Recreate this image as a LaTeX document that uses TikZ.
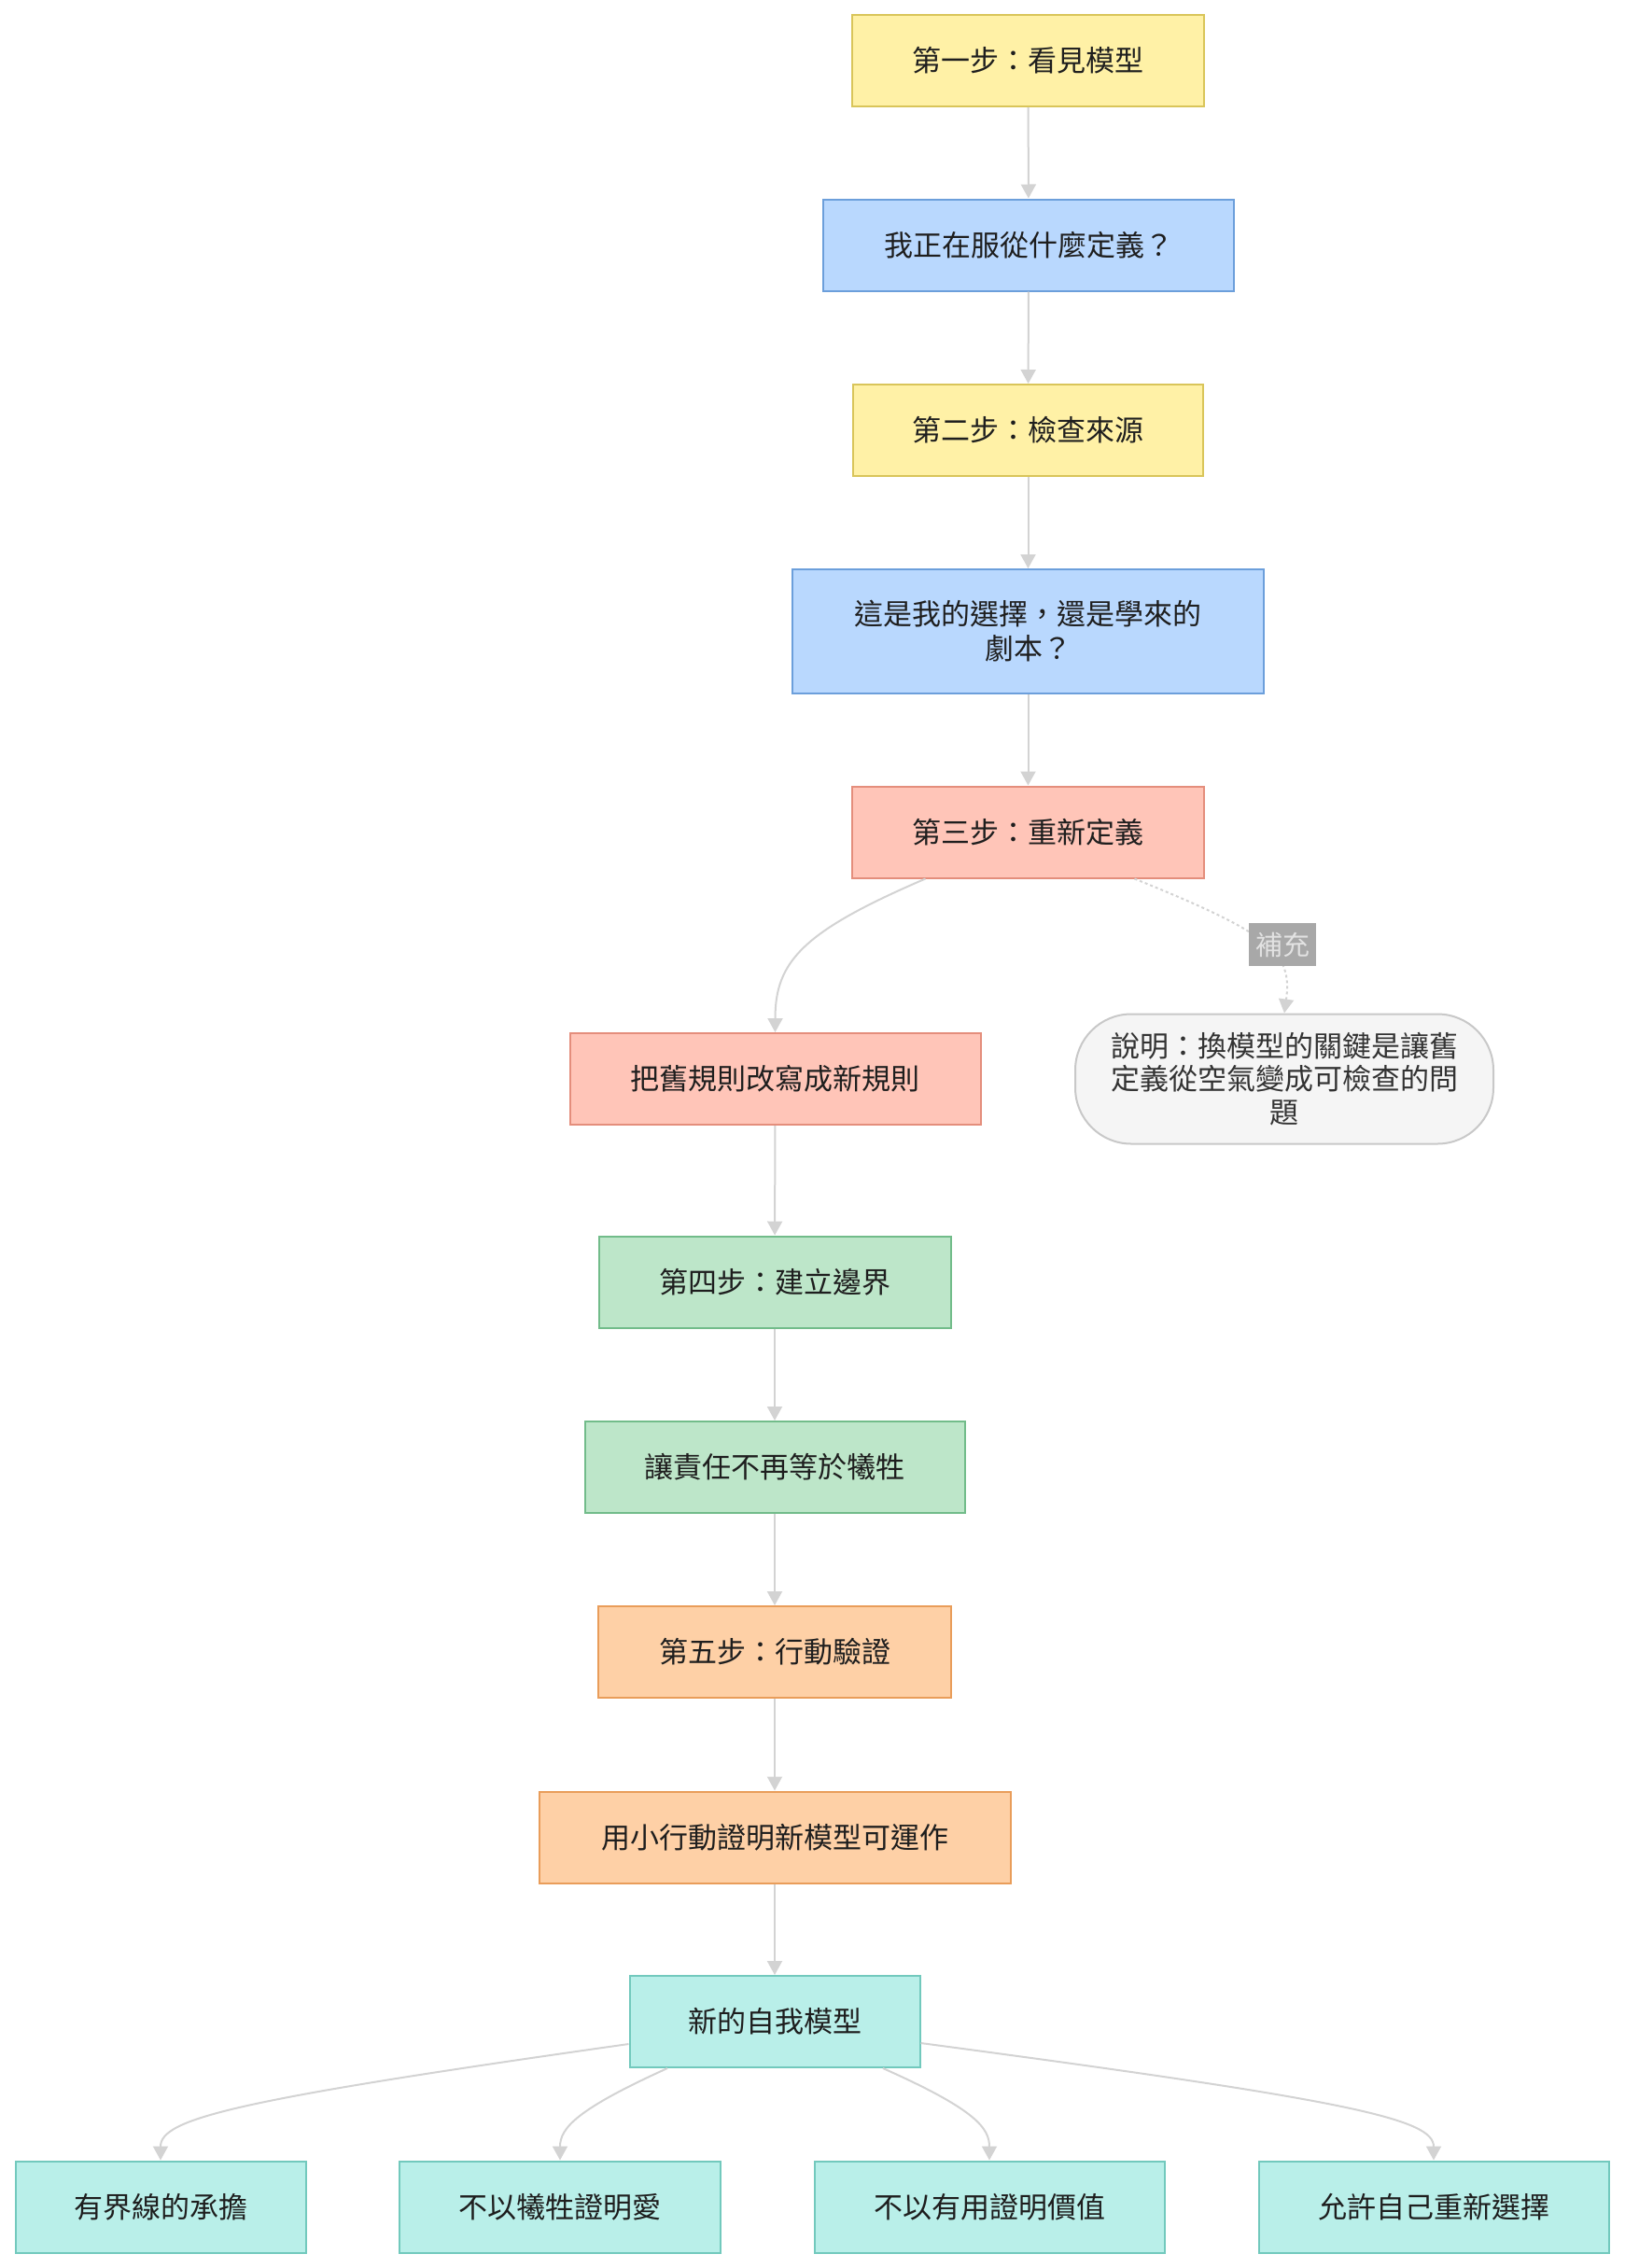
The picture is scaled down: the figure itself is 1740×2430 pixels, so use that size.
\documentclass[tikz,border=0pt]{standalone}
\usepackage{fontspec}
\setmainfont{Noto Sans CJK TC}
\usetikzlibrary{arrows.meta,calc}
\definecolor{yelF}{HTML}{FFF1A6}
\definecolor{yelD}{HTML}{D9C55A}
\definecolor{bluF}{HTML}{B9D8FE}
\definecolor{bluD}{HTML}{6C9FDB}
\definecolor{salF}{HTML}{FFC5B8}
\definecolor{salD}{HTML}{E48E7C}
\definecolor{grnF}{HTML}{BDE6C9}
\definecolor{grnD}{HTML}{72BC8A}
\definecolor{orgF}{HTML}{FED0A6}
\definecolor{orgD}{HTML}{E99D5A}
\definecolor{teaF}{HTML}{B9EFE9}
\definecolor{teaD}{HTML}{72C9BD}
\definecolor{noteF}{HTML}{F5F5F5}
\definecolor{noteD}{HTML}{C8C8C8}
\definecolor{lblF}{HTML}{A8A8A8}
\definecolor{lblT}{HTML}{E2E2E2}
\definecolor{edgec}{HTML}{D3D3D3}
\definecolor{textc}{HTML}{1E1E1E}
\begin{document}
\begin{tikzpicture}[x=1pt,y=-1pt,
  base/.style={draw, line width=2pt, minimum height=98pt, inner sep=0pt, align=center,
    font=\fontsize{31}{37}\selectfont, text=textc},
  yel/.style={base, fill=yelF, draw=yelD},
  blu/.style={base, fill=bluF, draw=bluD},
  sal/.style={base, fill=salF, draw=salD},
  grn/.style={base, fill=grnF, draw=grnD},
  org/.style={base, fill=orgF, draw=orgD},
  tea/.style={base, fill=teaF, draw=teaD},
  notebox/.style={base, fill=noteF, draw=noteD, rounded corners=60pt, text=black!80,
    font=\fontsize{31}{35.5}\selectfont},
  lbl/.style={fill=lblF, text=lblT, inner xsep=7pt, inner ysep=0pt, minimum height=46pt,
    font=\fontsize{29}{34}\selectfont},
  edge/.style={draw=edgec, line width=2pt, -{Triangle[width=16pt,length=15pt]}},
]
\useasboundingbox (0,0) rectangle (1740,2430);

\node[yel, minimum width=377pt] (s1) at (1101.5,65) {第一步：看見模型};
\node[blu, minimum width=440pt] (q1) at (1102,262.5) {我正在服從什麼定義？};
\node[yel, minimum width=375pt] (s2) at (1101.5,461) {第二步：檢查來源};
\node[blu, minimum width=505pt, minimum height=133pt] (q2) at (1101.5,676.5) {這是我的選擇，還是學來的\\劇本？};
\node[sal, minimum width=377pt] (s3) at (1101.5,891.5) {第三步：重新定義};
\node[sal, minimum width=440pt] (r3) at (830.5,1156) {把舊規則改寫成新規則};
\node[notebox, minimum width=448pt, minimum height=139pt] (nt) at (1376,1156) {說明：換模型的關鍵是讓舊\\定義從空氣變成可檢查的問\\題};
\node[grn, minimum width=377pt] (s4) at (830,1373.5) {第四步：建立邊界};
\node[grn, minimum width=407pt] (r4) at (830,1572) {讓責任不再等於犧牲};
\node[org, minimum width=378pt] (s5) at (830,1770) {第五步：行動驗證};
\node[org, minimum width=505pt] (r5) at (830,1968.5) {用小行動證明新模型可運作};
\node[tea, minimum width=311pt] (nm) at (830,2166) {新的自我模型};
\node[tea, minimum width=311pt] (l1) at (172,2364.5) {有界線的承擔};
\node[tea, minimum width=344pt] (l2) at (600,2364.5) {不以犧牲證明愛};
\node[tea, minimum width=375pt] (l3) at (1060,2364.5) {不以有用證明價值};
\node[tea, minimum width=375pt] (l4) at (1536,2364.5) {允許自己重新選擇};

\draw[edge] (s1) -- (q1);
\draw[edge] (q1) -- (s2);
\draw[edge] (s2) -- (q2);
\draw[edge] (q2) -- (s3);
\draw[edge] ([xshift=-110pt]s3.south) .. controls (860,998) and (830.5,1030) .. (r3.north);
\draw[edge, dash pattern=on 3pt off 3pt] ([xshift=114pt]s3.south) .. controls (1360,1000) and (1385,1020) .. (nt.north);
\node[lbl] (lb) at (1374,1012) {補充};
\draw[edge] (r3) -- (s4);
\draw[edge] (s4) -- (r4);
\draw[edge] (r4) -- (s5);
\draw[edge] (s5) -- (r5);
\draw[edge] (r5) -- (nm);
\draw[edge] ([yshift=-24pt]nm.west) .. controls (250,2250) and (172,2270) .. (l1.north);
\draw[edge] ([xshift=-115pt]nm.south) .. controls (618,2260) and (600,2280) .. (l2.north);
\draw[edge] ([xshift=116pt]nm.south) .. controls (1045,2260) and (1060,2280) .. (l3.north);
\draw[edge] ([yshift=-23pt]nm.east) .. controls (1445,2250) and (1536,2270) .. (l4.north);
\end{tikzpicture}
\end{document}
